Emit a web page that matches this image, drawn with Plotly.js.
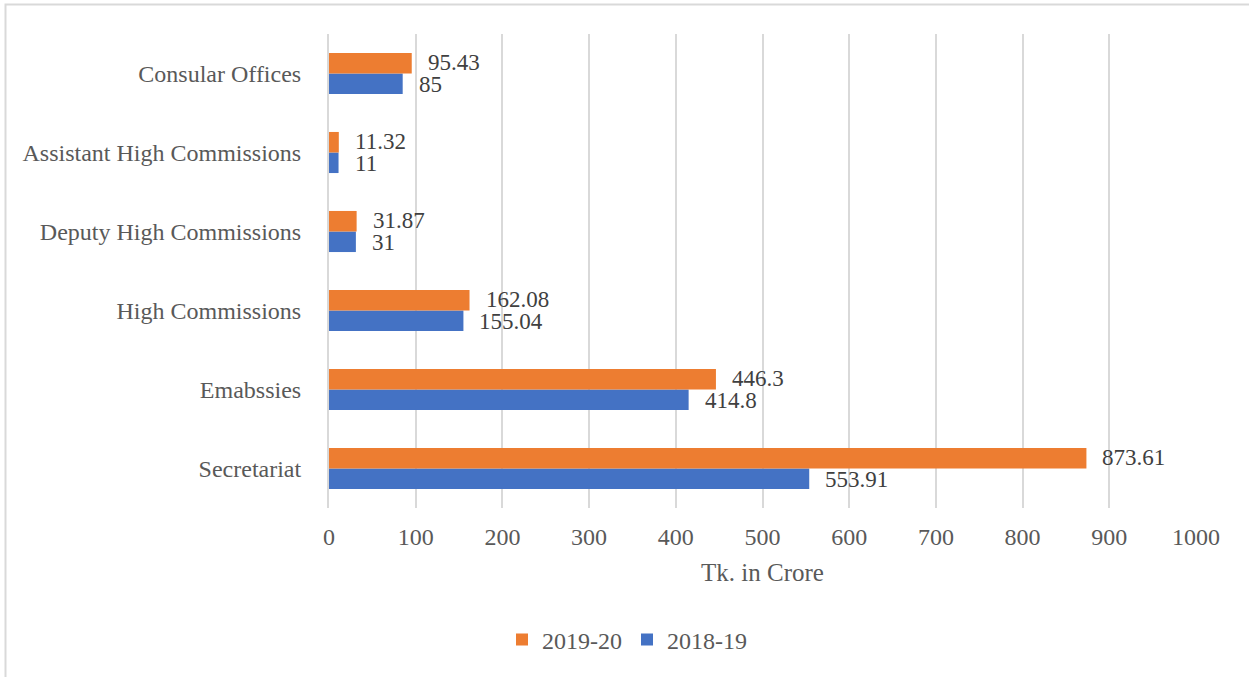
<!DOCTYPE html>
<html>
<head>
<meta charset="utf-8">
<script src="https://cdn.plot.ly/plotly-3.0.1.min.js"></script>
<style>html,body{margin:0;padding:0;background:#fff;}</style>
</head>
<body>
<div id="chart" style="width:1249px;height:677px;"></div>
<script>
var categories = ["Secretariat", "Emabssies", "High Commissions", "Deputy High Commissions", "Assistant High Commissions", "Consular Offices"];
var values2018 = [553.91, 414.8, 155.04, 31, 11, 85];
var values2019 = [873.61, 446.3, 162.08, 31.87, 11.32, 95.43];
var labels2018 = ["553.91", "414.8", "155.04", "31", "11", "85"];
var labels2019 = ["873.61", "446.3", "162.08", "31.87", "11.32", "95.43"];
var xTicks = [0, 100, 200, 300, 400, 500, 600, 700, 800, 900, 1000];

var W = 1249, H = 677;
var mL = 329, mR = 53, mT = 34, mB = 169;
var pw = W - mL - mR, ph = H - mT - mB;
var FONT = "'Liberation Serif', 'Times New Roman', serif";

var traces = [
  {type: "bar", orientation: "h", name: "2018-19", y: categories, x: values2018,
   marker: {color: "#4472C4"}, hoverinfo: "x"},
  {type: "bar", orientation: "h", name: "2019-20", y: categories, x: values2019,
   marker: {color: "#ED7D31"}, hoverinfo: "x"}
];

var annotations = [];
for (var i = 0; i < categories.length; i++) {
  annotations.push({x: values2019[i], y: categories[i], xref: "x", yref: "y", text: labels2019[i],
    showarrow: false, xanchor: "left", yanchor: "middle", xshift: 14, yshift: 11,
    font: {family: FONT, size: 23, color: "#404040"}});
  annotations.push({x: values2018[i], y: categories[i], xref: "x", yref: "y", text: labels2018[i],
    showarrow: false, xanchor: "left", yanchor: "middle", xshift: 14, yshift: -11,
    font: {family: FONT, size: 23, color: "#404040"}});
}

var layout = {
  width: W, height: H,
  margin: {l: mL, r: mR, t: mT, b: mB, pad: 0},
  paper_bgcolor: "#ffffff", plot_bgcolor: "#ffffff",
  font: {family: FONT, size: 24, color: "#595959"},
  barmode: "group", bargap: 0.48, bargroupgap: 0,
  showlegend: true,
  legend: {orientation: "h", traceorder: "reversed", x: (627 - mL) / pw, xanchor: "center",
    y: -(640 - mT - ph) / ph, yanchor: "middle", font: {family: FONT, size: 24, color: "#595959"},
    itemwidth: 30},
  xaxis: {range: [0, 1000], tickvals: xTicks, ticktext: xTicks.map(String), showgrid: true,
    gridcolor: "#d9d9d9", gridwidth: 2, zeroline: false, showline: false, ticks: "",
    ticklabelstandoff: 12, fixedrange: true,
    title: {text: "Tk. in Crore", font: {family: FONT, size: 25, color: "#595959"}, standoff: 14}},
  yaxis: {type: "category", categoryorder: "array", categoryarray: categories,
    showgrid: false, zeroline: false, showline: true, linecolor: "#d9d9d9", linewidth: 2,
    ticks: "", ticklabelstandoff: 21, fixedrange: true},
  annotations: annotations,
  shapes: [{type: "rect", xref: "paper", yref: "paper", layer: "below",
    x0: (5.5 - mL) / pw, x1: (1260 - mL) / pw, y0: -(700 - mT - ph) / ph, y1: 1 + (mT - 4.5) / ph,
    line: {color: "#d9d9d9", width: 2}, fillcolor: "rgba(0,0,0,0)"}]
};

Plotly.newPlot("chart", traces, layout, {displayModeBar: false, staticPlot: true});
</script>
</body>
</html>
